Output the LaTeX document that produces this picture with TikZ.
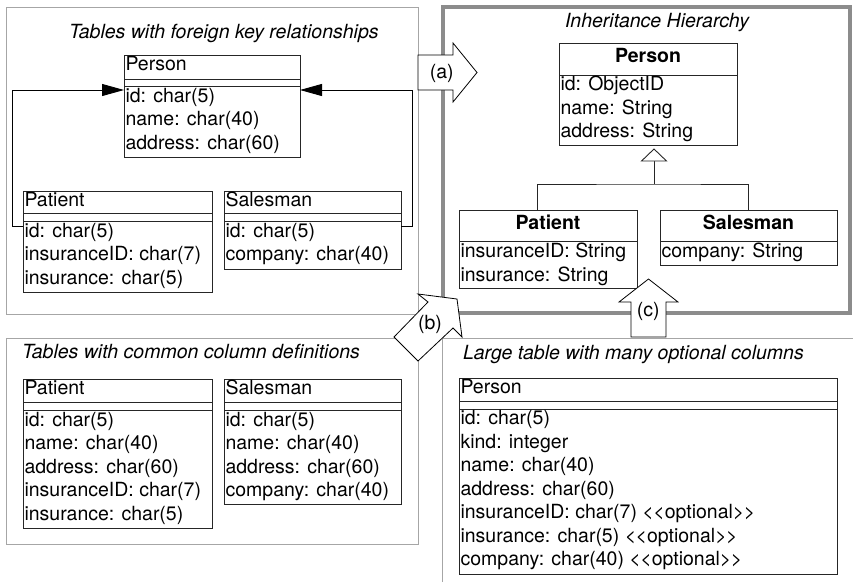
\documentclass[tikz,border=0pt]{standalone}
\usepackage{fontspec}
\setmainfont{TeX Gyre Heros}
\usetikzlibrary{arrows.meta,fit,calc}
\newcommand\fsz{\fontsize{19.5}{23.5}\selectfont}
\newcommand\opt{<\kern-0.5pt<optional>\kern-0.5pt>}
\tikzset{
  thinframe/.style={draw=black!35, line width=0.9pt, inner sep=0pt, outer sep=0pt},
  bigframe/.style={draw=black!45, line width=3.5pt, inner sep=0pt, outer sep=0pt},
  tbl/.style={draw=black!85, line width=0.9pt, inner sep=0pt, outer sep=0pt},
  tline/.style={draw=black!85, line width=0.9pt},
  row/.style={anchor=base west, inner sep=0pt, outer sep=0pt, font=\fsz},
  hdr/.style={anchor=base, inner sep=0pt, outer sep=0pt, font=\fsz\bfseries},
  ttl/.style={anchor=base west, inner sep=0pt, outer sep=0pt, font=\fsz\itshape},
  lbl/.style={anchor=base, inner sep=0pt, outer sep=0pt, font=\fsz},
  fk/.style={draw=black, line width=0.9pt, -{Triangle[length=22pt,width=12pt]}},
  blk/.style={draw=black, line width=0.8pt, fill=white, line join=miter},
}
% name, x1, y1, x2, y2
\newcommand\dbbox[5]{\node[tbl, fit={(#2,#3) (#4,#5)}] (#1) {};}
% prefix, x, first baseline, list of rows
\newcommand\dbrows[4]{\foreach \txt [count=\i] in {#4} {\node[row] (#1-\i) at (#2, {#3+23.5*(\i-1)}) {\txt};}}
\begin{document}
\begin{tikzpicture}[x=1pt, y=-1pt]
\useasboundingbox (0,0) rectangle (853,582);

% ---------- frames ----------
\node[thinframe, fit={(6,7) (418,314)}] (fA) {};
\node[bigframe, fit={(443,7) (850,313)}] (fB) {};
\node[thinframe, fit={(6,338) (418,544)}] (fC) {};
\draw[draw=black!35, line width=0.9pt] (442,582) -- (442,338) -- (853,338);

\node[ttl] (tA) at (69,38.5) {Tables with foreign key relationships};
\node[ttl, anchor=base] (tB) at (657,27.5) {Inheritance Hierarchy};
\node[ttl] (tC) at (22,358) {Tables with common column definitions};
\node[ttl] (tD) at (463,359) {Large table with many optional columns};

% ---------- A: foreign keys ----------
\dbbox{pA}{124}{55}{300}{157}
\draw[tline] (124,79) -- (300,79) (124,86) -- (300,86);
\node[row] (pA-h) at (125.5,70.5) {Person};
\dbrows{pA}{125.5}{102}{{id: char(5)},{name: char(40)},{address: char(60)}}

\dbbox{paA}{23}{191}{212}{292}
\draw[tline] (23,213) -- (212,213) (23,221) -- (212,221);
\node[row] (paA-h) at (24.5,206.5) {Patient};
\dbrows{paA}{24.5}{237}{{id: char(5)},{insuranceID: char(7)},{insurance: char(5)}}

\dbbox{saA}{224}{191}{401}{269}
\draw[tline] (224,213) -- (401,213) (224,221) -- (401,221);
\node[row] (saA-h) at (225.5,206.5) {Salesman};
\dbrows{saA}{225.5}{237}{{id: char(5)},{company: char(40)}}

\draw[fk] ([yshift=-35pt]paA.north west) -- ++(-11,0) |- ([yshift=-35pt]pA.north west);
\draw[fk] ([yshift=-35pt]saA.north east) -- ++(11,0) |- ([yshift=-35pt]pA.north east);

% ---------- B: inheritance ----------
\dbbox{pB}{559}{43}{737}{145}
\draw[tline] (559,75) -- (737,75);
\node[hdr] (pB-h) at (648,62) {Person};
\dbrows{pB}{560.5}{90.5}{{id: ObjectID},{name: String},{address: String}}

\dbbox{paB}{459}{210}{637}{288}
\draw[tline] (459,241) -- (637,241);
\node[hdr] (paB-h) at (548,229) {Patient};
\dbrows{paB}{460.5}{257.5}{{insuranceID: String},{insurance: String}}

\dbbox{saB}{660}{210}{837}{265}
\draw[tline] (660,241) -- (837,241);
\node[hdr] (saB-h) at (748.5,229) {Salesman};
\dbrows{saB}{661.5}{257.5}{{company: String}}

\coordinate (inh) at (654,149);
\draw[tline] ($(inh)+(0,12)$) -- ($(inh)+(0,35)$);
\draw[tline] (paB.north west) ++(78,0) |- ($(inh)+(0,35)$) -| (saB.north);
\draw[tline, fill=white] (inh) -- ++(12.5,12) -- ++(-25,0) -- cycle;

% ---------- C: common columns ----------
\dbbox{paC}{23}{379}{212}{528}
\draw[tline] (23,402) -- (212,402) (23,410) -- (212,410);
\node[row] (paC-h) at (24.5,394) {Patient};
\dbrows{paC}{24.5}{426}{{id: char(5)},{name: char(40)},{address: char(60)},{insuranceID: char(7)},{insurance: char(5)}}

\dbbox{saC}{224}{379}{401}{504}
\draw[tline] (224,402) -- (401,402) (224,410) -- (401,410);
\node[row] (saC-h) at (225.5,394) {Salesman};
\dbrows{saC}{225.5}{426}{{id: char(5)},{name: char(40)},{address: char(60)},{company: char(40)}}

% ---------- D: large table ----------
\dbbox{pD}{459}{378}{837}{574}
\draw[tline] (459,401) -- (837,401) (459,409) -- (837,409);
\node[row] (pD-h) at (460.5,393) {Person};
\dbrows{pD}{460.5}{424.5}{{id: char(5)},{kind: integer},{name: char(40)},{address: char(60)},{insuranceID: char(7) \opt},{insurance: char(5) \opt},{company: char(40) \opt}}

% ---------- block arrows ----------
\draw[blk] (418,55) -- (453,55) -- (453,43) -- (477,72.5) -- (453,102) -- (453,90) -- (418,90) -- cycle;
\node[lbl] (la) at (441.7,78.5) {(a)};
\draw[blk] (418,294) -- (428,302) -- (394,337) -- (418,361) -- (453,328) -- (462,337) -- (457,299) -- cycle;
\node[lbl] (lb) at (430,329) {(b)};
\draw[blk] (631,337) -- (666,337) -- (666,302) -- (678,302) -- (648.5,279) -- (619,302) -- (631,302) -- cycle;
\node[lbl] (lc) at (648.3,316) {(c)};
\end{tikzpicture}
\end{document}
